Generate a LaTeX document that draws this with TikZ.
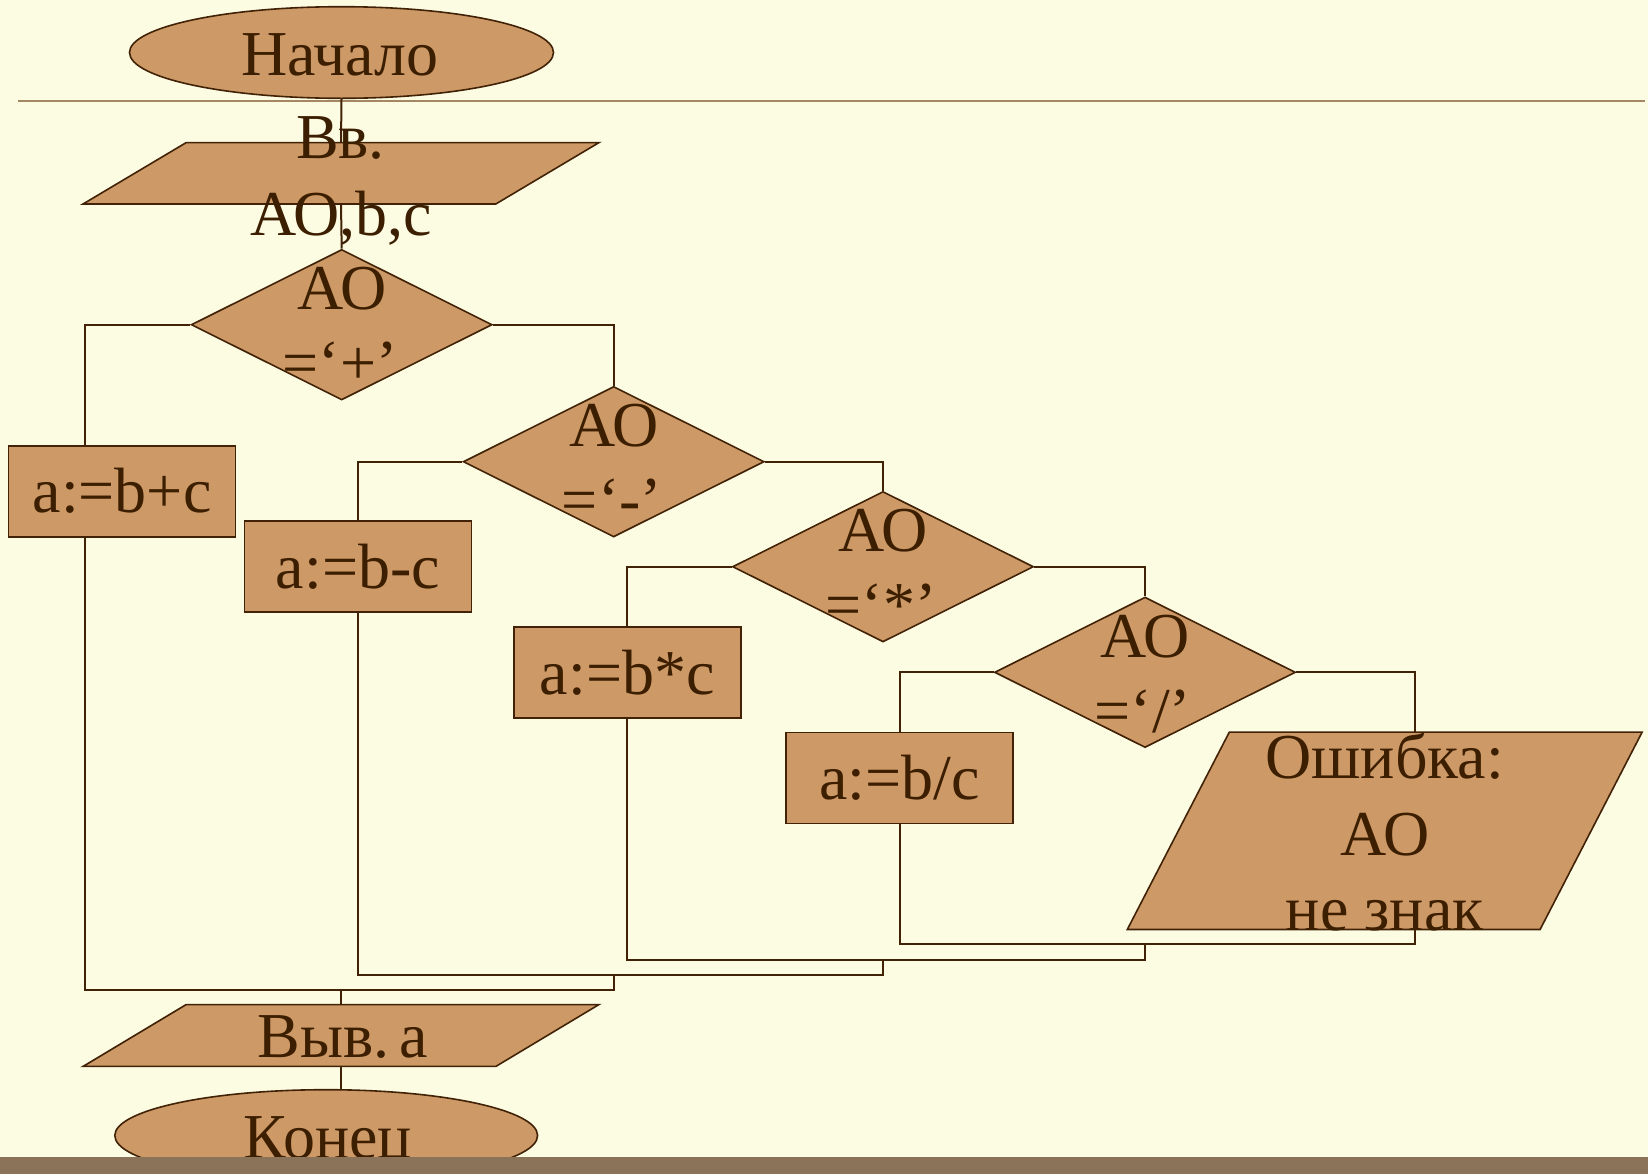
\documentclass[tikz,border=0pt]{standalone}
\usepackage{fontspec}
\setmainfont{Liberation Serif}
\usetikzlibrary{shapes.geometric}
\definecolor{bgc}{RGB}{252,252,227}
\definecolor{fillc}{RGB}{205,153,102}
\definecolor{linec}{RGB}{66,34,6}
\definecolor{textc}{RGB}{60,30,0}
\definecolor{barc}{RGB}{139,115,90}
\definecolor{rulec}{RGB}{165,135,100}
\begin{document}
\begin{tikzpicture}[x=0.5pt,y=-0.5pt,
 shp/.style={draw=linec, fill=fillc, line width=0.8pt},
 term/.style={shp, ellipse, minimum width=212pt, minimum height=45.8pt, inner sep=0pt},
 dec/.style={shp, diamond, minimum width=150.5pt, minimum height=75.25pt, inner sep=0pt},
 proc/.style={shp, rectangle, minimum width=113.5pt, minimum height=45.5pt, inner sep=0pt, font=\fontsize{32}{38}\selectfont, text=textc},
 frame/.style={rectangle, draw=none, inner sep=0pt, minimum width=206pt},
 txt/.style={font=\fontsize{32}{38}\selectfont, text=textc, inner sep=0pt, anchor=base},
 conn/.style={draw=linec, line width=1pt},
]
\fill[bgc] (0,0) rectangle (1648,1173);
\useasboundingbox (0,0) rectangle (1648,1173);
\draw[rulec, line width=1.2pt] (18,100.7) -- (1645,100.7);

% shapes
\node[term] (start) at (341.5,52.5) {};
\node[frame, minimum height=30.25pt] (inp) at (341,173.3) {};
\draw[shp] ([xshift=25.75pt]inp.north west) -- ([xshift=25.75pt]inp.north east)
  -- ([xshift=-25.75pt]inp.south east) -- ([xshift=-25.75pt]inp.south west) -- cycle;

\node[dec] (d1) at (341.7,324.7) {};
\node[dec] (d2) at (613.7,461.7) {};
\node[dec] (d3) at (883,566.7) {};
\node[dec] (d4) at (1145,672.3) {};

\node[proc] (b1) at (122,491.2) {a:=b+c};
\node[proc] (b2) at (357.9,566.5) {a:=b-c};
\node[proc] (b3) at (627.2,672.5) {a:=b*c};
\node[proc] (b4) at (899.5,777.8) {a:=b/c};

\node[frame, minimum height=98.25pt] (err) at (1384.7,830.8) {};
\draw[shp] ([xshift=25.5pt]err.north west) -- ([xshift=25.5pt]err.north east)
  -- ([xshift=-25.5pt]err.south east) -- ([xshift=-25.5pt]err.south west) -- cycle;

\node[frame, minimum height=30.5pt] (out) at (341,1035.5) {};
\draw[shp] ([xshift=25.75pt]out.north west) -- ([xshift=25.75pt]out.north east)
  -- ([xshift=-25.75pt]out.south east) -- ([xshift=-25.75pt]out.south west) -- cycle;

\node[term, minimum width=211.4pt] (end) at (326.2,1135.5) {};

% texts
\node[txt] (tstart) at (340,75) {Начало};
\node[txt] (tin1) at (340.5,158) {Вв.};
\node[txt] (tin2) at (341,235) {АО,b,c};
\node[txt] (td1a) at (341.7,309.7) {АО};
\node[txt] (td1b) at (340,384.7) {=‘+’};
\node[txt] (td2a) at (613.7,446.7) {АО};
\node[txt] (td2b) at (612,521.7) {=‘-’};
\node[txt] (td3a) at (883,551.7) {АО};
\node[txt] (td3b) at (881,626.7) {=‘*’};
\node[txt] (td4a) at (1145,657.3) {АО};
\node[txt] (td4b) at (1143,732.3) {=‘/’};
\node[txt] (terr1) at (1384.7,778) {Ошибка:};
\node[txt] (terr2) at (1384.7,855) {АО};
\node[txt] (terr3) at (1384.7,930) {не знак};
\node[txt] (tout) at (342.8,1057) {Выв.\,а};
\node[txt] (tend) at (327.8,1158) {Конец};

% connectors
\coordinate (j4) at (1145,944);
\coordinate (j3) at (883,960);
\coordinate (j2) at (613.7,975);
\coordinate (j1) at (341,990);

\draw[conn] (start.south) -- (inp.north);
\draw[conn] (inp.south) -- (d1.north);
\draw[conn] (d1.west) -| ([xshift=-18.5pt]b1.north);
\draw[conn] (d1.east) -| (d2.north);
\draw[conn] (d2.west) -| (b2.north);
\draw[conn] (d2.east) -| (d3.north);
\draw[conn] (d3.west) -| (b3.north);
\draw[conn] (d3.east) -| (d4.north);
\draw[conn] (d4.west) -| (b4.north);
\draw[conn] (d4.east) -| ([xshift=15pt]err.north);

\draw[conn] (b4.south) |- (j4);
\draw[conn] ([xshift=15pt]err.south) |- (j4);
\draw[conn] (b3.south) |- (j4 |- j3) -- (j4);
\draw[conn] (b2.south) |- (j3 |- j2) -- (j3);
\draw[conn] ([xshift=-18.5pt]b1.south) |- (j2 |- j1) -- (j2);
\draw[conn] (j1) -- (out.north);
\draw[conn] (out.south) -- (out.south |- end.north);

\fill[barc] (-10,1156.7) rectangle (1660,1200);
\end{tikzpicture}
\end{document}
